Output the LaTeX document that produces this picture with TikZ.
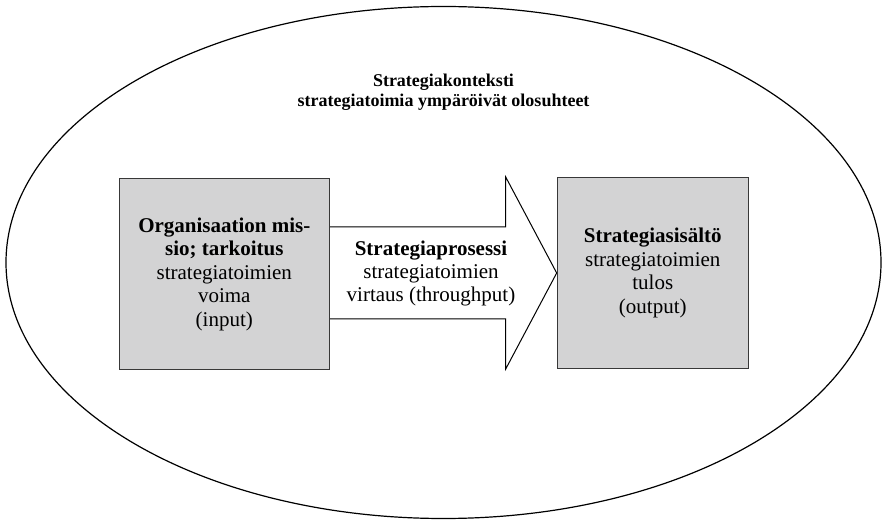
\documentclass[tikz,border=0pt]{standalone}
\usepackage{fontspec}
\setmainfont{Liberation Serif}
\usetikzlibrary{calc}
\definecolor{boxgray}{HTML}{D3D3D4}
\definecolor{edgegray}{HTML}{383838}

\begin{document}
\begin{tikzpicture}[
  x=1pt, y=-1pt,
  every node/.style={align=center},
  block/.style={rectangle, draw=edgegray, fill=boxgray, line width=1.2pt,
    minimum height=190.5pt, inner sep=0pt, font=\fontsize{21}{23.5}\selectfont},
  flow/.style={draw=black, line width=1pt, line join=miter},
  textlabel/.style={inner sep=0pt, font=\fontsize{21}{23}\selectfont},
  toplabel/.style={inner sep=0pt, font=\bfseries\fontsize{18}{20}\selectfont},
]
  \useasboundingbox (0,0) rectangle (884,521);

  % context ellipse
  \draw[line width=1.2pt] (443.5,262.5) ellipse [x radius=437.5pt, y radius=256pt];
  \node[toplabel] (context) at (443.5,92.5) {Strategiakonteksti\\strategiatoimia ympäröivät olosuhteet};

  % process arrow
  \coordinate (shaftend) at (505.7,0);
  \node[block, minimum width=191pt] (content) at (652.8,273) {};
  \draw[flow] (content.west) -- (shaftend |- 0,177) -- (shaftend |- 0,227)
    -- (329.3,227);
  \draw[flow] (content.west) -- (shaftend |- 0,369) -- (shaftend |- 0,319)
    -- (329.3,319);
  \node[textlabel] (process) at (431,273) {\textbf{Strategiaprosessi}\\strategiatoimien\\virtaus (throughput)};

  % input and output boxes
  \node[block, minimum width=210pt] (mission) at (224.3,274)
    {\textbf{Organisaation mis-}\\\textbf{sio; tarkoitus}\\strategiatoimien\\voima\\(input)};
  \node[block, minimum width=191pt] at (content) {\textbf{Strategiasisältö}\\strategiatoimien\\tulos\\(output)};
\end{tikzpicture}
\end{document}
